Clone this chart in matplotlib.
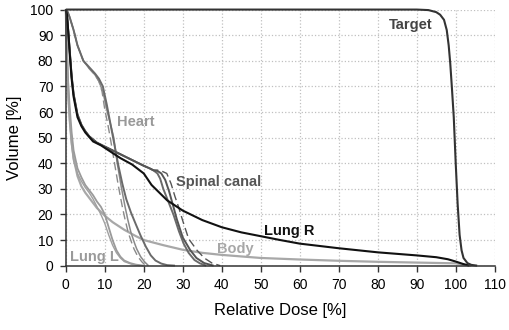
import matplotlib
matplotlib.use("Agg")
import matplotlib.pyplot as plt

plt.rcParams['font.family'] = ['Liberation Sans', 'DejaVu Sans']

# dose-volume histogram
target_x = [0, 90, 93, 95, 96, 97, 97.7, 98.2, 98.6, 99, 99.5, 100, 100.5, 101, 101.5, 102, 103, 104, 105.5]
target_y = [100, 100, 99.8, 99, 98, 96, 92, 86, 79, 70, 58, 40, 24, 12, 6, 3, 1, 0.3, 0]

lungr_x = [0, 0.3, 0.7, 1, 1.5, 2, 3, 4, 5, 7, 9, 11, 14, 17, 20, 22, 24, 26, 28, 30, 35, 40, 45, 50,
           55, 60, 70, 80, 90, 95, 98, 100, 102, 103.5]
lungr_y = [100, 98, 90, 83, 73, 66, 58, 54.5, 52, 48.5, 47, 45, 42, 39.5, 36, 31.5, 28.5, 25.5, 23.5, 21.5,
           17.8, 15, 13, 11.5, 10, 8.6, 6.8, 5.2, 4, 3.3, 2.5, 1.6, 0.6, 0]

spinal_x = [0, 0.3, 0.6, 1, 1.5, 2, 3, 4, 5, 6, 8, 10, 12, 14, 16, 18, 20, 21.5, 22.5, 23.5, 24.2, 25,
            26.3, 27.6, 29, 30.2, 31.5, 33, 34.4, 36]
spinal_y = [100, 98, 92, 84, 74, 67, 59, 55, 52.5, 50.5, 48, 46.5, 45, 43.5, 42, 40.5, 39, 38, 37.2, 36,
            34, 30, 25, 20, 13.5, 8.7, 5, 2.2, 0.9, 0]
spinal2_x = [0, 0.3, 0.6, 1, 1.5, 2, 3, 4, 5, 6, 8, 10, 12, 14, 16, 18, 20, 21.5, 22.5, 23.5, 24.5, 25.5,
             26.5, 27.6, 28.5, 30, 31.9, 33.5, 35.5, 37.9]
spinal2_y = [100, 98, 92, 84, 74, 67, 59, 55, 52.5, 50.5, 48, 46.5, 45, 43.5, 42, 40.5, 39, 38, 37.2, 37,
             36, 33.5, 29, 23, 18, 11, 6.1, 3, 1, 0]
spinal3_x = [0, 0.3, 0.6, 1, 1.5, 2, 3, 4, 5, 6, 8, 10, 12, 14, 16, 18, 20, 21.5, 22.5, 23.5, 24.5, 25.9,
             27, 28, 28.9, 30, 31.5, 33.6, 35.5, 37.5, 39.6]
spinal3_y = [100, 98, 92, 84, 74, 67, 59, 55, 52.5, 50.5, 48, 46.5, 45, 43.5, 42, 40.5, 39, 38, 37.3, 37.3,
             37, 36, 32, 27, 23, 17.5, 10.5, 6.1, 3, 1, 0]

heart_x = [0, 0.5, 1, 2, 3, 4.5, 6, 7.5, 8.5, 9.5, 10.5, 11.5, 12.3, 13.2, 14.2, 15.2, 15.9, 16.7, 17.7,
           18.2, 19.2, 20.2, 21.2]
heart_y = [100, 99, 97, 92, 86, 80, 77, 74.5, 72, 68, 61, 55, 50, 40, 31, 23, 18, 13, 8.5, 6.5, 3.5, 1.5, 0]
heart2_x = [0, 0.5, 1, 2, 3, 4.5, 6, 7.5, 8.5, 9.3, 10, 10.8, 11.4, 12.5, 13.5, 14.5, 15.2, 16, 17, 17.5,
            18.5, 19.5, 20.5]
heart2_y = [100, 99, 97, 92, 86, 80, 77, 74.5, 72, 68, 61, 55, 50, 40, 31, 23, 18, 13, 8.5, 6.5, 3.5, 1.5, 0]
heart3_x = [0, 0.5, 1, 2, 3, 4.5, 6, 7.5, 8.5, 9.5, 10.5, 11.5, 12.5, 13.5, 14.5, 15.5, 16.7, 18, 19.2,
            20.5, 21.8, 23, 24.5, 26, 28]
heart3_y = [100, 99, 97, 92, 86, 80, 77.5, 75, 73, 70, 63, 55, 47, 39, 32, 26, 20.8, 16, 11.7, 7.5, 4, 2,
            0.8, 0.2, 0]

lungl_x = [0, 0.3, 0.6, 1, 1.5, 2, 3, 4, 5, 6, 7, 8, 9, 10, 11, 12, 13, 14, 15, 16.5, 18, 20]
lungl_y = [100, 85, 72, 62, 52, 45, 38, 34.5, 31.5, 29.5, 27.5, 25, 23, 20, 15, 10, 6, 3.5, 2, 1, 0.4, 0]
lungl2_x = [0, 0.3, 0.6, 1, 1.5, 2, 3, 4, 5, 6, 7, 8, 9, 10, 11, 12, 13, 14, 15, 17, 19]
lungl2_y = [100, 80, 66, 56, 47, 41, 36, 33, 30.5, 28.5, 26, 23, 20, 16.5, 12, 8, 5, 3, 1.6, 0.5, 0]

body_x = [0, 0.3, 0.6, 1, 1.5, 2, 3, 4, 5, 6, 8, 10, 12, 15, 18, 20, 25, 30, 35, 40, 50, 60, 70, 80,
          90, 100, 102, 104]
body_y = [100, 82, 68, 57, 48, 42, 35, 31, 28.5, 26.5, 22.5, 19.5, 17, 14, 11.5, 10, 8, 6.2, 5, 4.2, 3,
          2.4, 1.9, 1.5, 1.2, 0.9, 0.4, 0]

fig, ax = plt.subplots(figsize=(5.1, 3.3), dpi=100)
fig.subplots_adjust(left=0.129, right=0.970, bottom=0.195, top=0.971)

kw = dict(clip_on=False, solid_capstyle='butt')
ax.plot(body_x, body_y, color='#a8a8a8', lw=1.6, **kw)
ax.plot(lungl_x, lungl_y, color='#9a9a9a', lw=1.3, **kw)
ax.plot(lungl2_x, lungl2_y, color='#a0a0a0', lw=1.0, **kw)
ax.plot(heart_x, heart_y, color='#8a8a8a', lw=1.1, **kw)
ax.plot(heart2_x, heart2_y, color='#8a8a8a', lw=1.0, ls=(0, (6, 3)), **kw)
ax.plot(heart3_x, heart3_y, color='#6a6a6a', lw=1.4, **kw)
ax.plot(spinal_x, spinal_y, color='#6a6a6a', lw=1.4, **kw)
ax.plot(spinal2_x, spinal2_y, color='#555555', lw=1.4, **kw)
ax.plot(spinal3_x, spinal3_y, color='#555555', lw=1.0, ls=(0, (6, 3)), **kw)
ax.plot(lungr_x, lungr_y, color='#111111', lw=1.5, **kw)
ax.plot(target_x, target_y, color='#333333', lw=1.5, **kw)

lab = dict(fontsize=10.5, fontweight='bold', ha='center', va='center')
ax.text(88.4, 94, 'Target', color='#444444', **lab)
ax.text(17.9, 56, 'Heart', color='#999999', **lab)
ax.text(39.3, 32.7, 'Spinal canal', color='#555555', **lab)
ax.text(57.3, 13.6, 'Lung R', color='#111111', **lab)
ax.text(43.4, 6.5, 'Body', color='#a8a8a8', **lab)
ax.text(7.3, 3.2, 'Lung L', color='#9a9a9a', **lab)

ax.set_xlim(0, 110)
ax.set_ylim(0, 100)
ax.set_xticks(range(0, 111, 10))
ax.set_yticks(range(0, 101, 10))
ax.grid(True, color='#c0c0c0', ls=':', lw=0.9)
ax.set_axisbelow(True)
for s in ['top', 'right']:
    ax.spines[s].set_visible(False)
for s in ['left', 'bottom']:
    ax.spines[s].set_color('#333333')
    ax.spines[s].set_linewidth(1.1)
ax.tick_params(direction='out', length=4, width=1, color='#333333', labelsize=10, pad=5)
ax.set_xlabel('Relative Dose [%]', fontsize=12, labelpad=8)
ax.set_ylabel('Volume [%]', fontsize=12, labelpad=6)

fig.savefig('out.png', dpi=100)
